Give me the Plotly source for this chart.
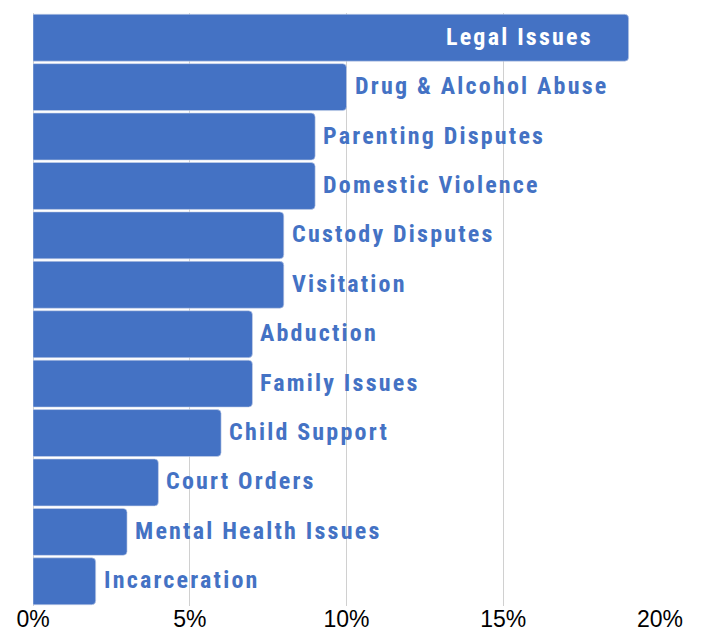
import plotly.graph_objects as go

categories = ["Legal Issues", "Drug & Alcohol Abuse", "Parenting Disputes", "Domestic Violence",
              "Custody Disputes", "Visitation", "Abduction", "Family Issues", "Child Support",
              "Court Orders", "Mental Health Issues", "Incarceration"]
values = [19, 10, 9, 9, 8, 8, 7, 7, 6, 4, 3, 2]
tick_vals = [0, 5, 10, 15, 20]
tick_text = ["0%", "5%", "10%", "15%", "20%"]

BLUE = "#4472C4"
fig = go.Figure(go.Bar(
    x=values, y=categories, orientation="h",
    marker=dict(color=BLUE, line=dict(color="#c9d4ea", width=0.6)),
    marker_cornerradius=4,
    hoverinfo="skip",
))

label_font = "Roboto Condensed, Roboto, sans-serif"
annotations = []
for i, (c, v) in enumerate(zip(categories, values)):
    inside = v == max(values)
    annotations.append(dict(
        x=v, y=c, xref="x", yref="y",
        text='<span style="letter-spacing:2.2px">' + c + '</span>',
        showarrow=False,
        xanchor="right" if inside else "left",
        xshift=-34 if inside else 6,
        yshift=1,
        font=dict(family=label_font, size=24, weight="bold",
                  color="white" if inside else BLUE),
    ))

fig.update_layout(
    width=701, height=631,
    margin=dict(l=33, r=41, t=13, b=25),
    plot_bgcolor="white", paper_bgcolor="white",
    bargap=0.05, showlegend=False,
    annotations=annotations,
    xaxis=dict(range=[0, 20], tickvals=tick_vals, ticktext=tick_text,
               showgrid=True, gridcolor="#d0d0d0", gridwidth=1,
               zeroline=True, zerolinecolor="#d0d0d0", zerolinewidth=1,
               tickfont=dict(family="Liberation Sans, Arial", size=23, color="black"),
               ticks="", showline=False, fixedrange=True, automargin=False,
               ticklabelstandoff=-3),
    yaxis=dict(autorange="reversed", showticklabels=False, ticks="",
               showgrid=False, zeroline=False, fixedrange=True, automargin=False),
)
fig.write_html("out.html")
